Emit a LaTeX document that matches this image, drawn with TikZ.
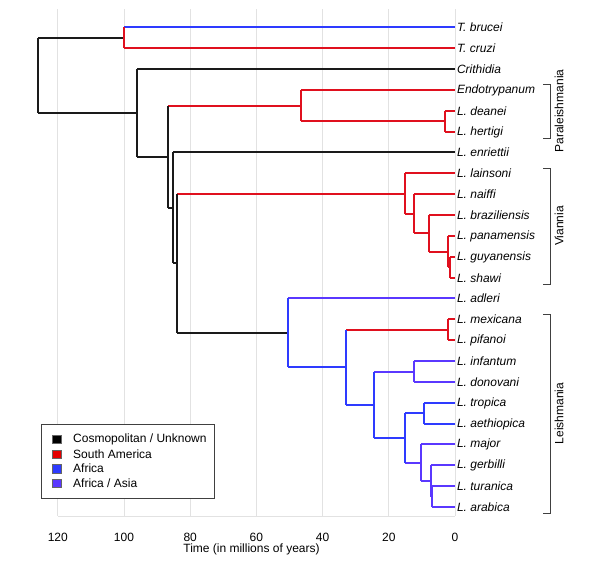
\documentclass[tikz,border=0pt]{standalone}
\usepackage{fontspec}
\setmainfont{Liberation Sans}
\definecolor{cosmocol}{HTML}{1A1A1A}
\definecolor{samcol}{HTML}{E0101E}
\definecolor{afrcol}{HTML}{2E3BFF}
\definecolor{asiacol}{HTML}{5A38FF}
\definecolor{gridcol}{HTML}{E2E2E2}
\tikzset{
  branch/.style={line width=1.6pt},
  cosmo/.style={branch, draw=cosmocol},
  samerica/.style={branch, draw=samcol},
  africa/.style={branch, draw=afrcol},
  afasia/.style={branch, draw=asiacol},
  leaf/.style={anchor=west, inner xsep=2pt, inner ysep=0pt, outer sep=0pt, font=\fontsize{12}{14}\selectfont\itshape},
  gridline/.style={draw=gridcol, line width=0.9pt},
  ticklabel/.style={inner sep=0pt, font=\fontsize{12}{14}\selectfont},
  groupname/.style={rotate=90, font=\fontsize{12}{14}\selectfont},
  bracket/.style={draw=black!75, line width=0.9pt},
  swatch/.style={draw=black!60, line width=0.4pt, minimum size=8.5pt, inner sep=0pt},
  legendtext/.style={anchor=west, inner sep=0pt, font=\fontsize{12}{14}\selectfont}
}
\begin{document}
\begin{tikzpicture}[x=1pt, y=-1pt]
\useasboundingbox (0,0) rectangle (600,567);

% grid and axis
\foreach \t in {0,20,...,120}{
  \draw[gridline] ({455-3.31*\t},9) -- ({455-3.31*\t},516);
  \node[ticklabel] at ({455-3.31*\t},537.5) {\t};
}
\draw[gridline] (57.8,516) -- (455,516);
\node[ticklabel] (xlabel) at (251.5,549.5) {Time (in millions of years)};

% leaves
\node[leaf] (brucei) at (455,27) {T. brucei};
\node[leaf] (cruzi) at (455,48) {T. cruzi};
\node[leaf] (crithidia) at (455,69) {Crithidia};
\node[leaf] (endotryp) at (455,90) {Endotrypanum};
\node[leaf] (deanei) at (455,111) {L. deanei};
\node[leaf] (hertigi) at (455,132) {L. hertigi};
\node[leaf] (enriettii) at (455,152) {L. enriettii};
\node[leaf] (lainsoni) at (455,173) {L. lainsoni};
\node[leaf] (naiffi) at (455,194) {L. naiffi};
\node[leaf] (brazil) at (455,215) {L. braziliensis};
\node[leaf] (panam) at (455,236) {L. panamensis};
\node[leaf] (guyan) at (455,257) {L. guyanensis};
\node[leaf] (shawi) at (455,278) {L. shawi};
\node[leaf] (adleri) at (455,298) {L. adleri};
\node[leaf] (mexicana) at (455,319) {L. mexicana};
\node[leaf] (pifanoi) at (455,340) {L. pifanoi};
\node[leaf] (infantum) at (455,361) {L. infantum};
\node[leaf] (donovani) at (455,382) {L. donovani};
\node[leaf] (tropica) at (455,403) {L. tropica};
\node[leaf] (aethiop) at (455,424) {L. aethiopica};
\node[leaf] (major) at (455,444) {L. major};
\node[leaf] (gerbilli) at (455,465) {L. gerbilli};
\node[leaf] (turanica) at (455,486) {L. turanica};
\node[leaf] (arabica) at (455,507) {L. arabica};

% internal nodes
\coordinate (nR) at (38,75);
\coordinate (nT) at (124,38);
\coordinate (nK) at (137,113);
\coordinate (nA) at (168,157);
\coordinate (nP) at (301,106);
\coordinate (nDH) at (445,121);
\coordinate (nB) at (173,208);
\coordinate (nC) at (177,263);
\coordinate (nV) at (405,194);
\coordinate (nV2) at (414,214);
\coordinate (nV3) at (429,233);
\coordinate (nV4) at (448,252);
\coordinate (nGS) at (450,267);
\coordinate (nL) at (288,333);
\coordinate (nL2) at (346,367);
\coordinate (nMP) at (448,330);
\coordinate (nI) at (374,405);
\coordinate (nID) at (414,372);
\coordinate (nO) at (405,438);
\coordinate (nTA) at (424,413);
\coordinate (nM) at (421,463);
\coordinate (nG) at (431,481);
\coordinate (nTU) at (432,497);

% horizontal branches, coloured by region of the child
\draw[cosmo] (nR |- nT) -- (nT);
\draw[cosmo] (nR |- nK) -- (nK);
\draw[africa] (nT |- brucei) -- (brucei);
\draw[samerica] (nT |- cruzi) -- (cruzi);
\draw[cosmo] (nK |- crithidia) -- (crithidia);
\draw[cosmo] (nK |- nA) -- (nA);
\draw[samerica] (nA |- nP) -- (nP);
\draw[cosmo] (nA |- nB) -- (nB);
\draw[samerica] (nP |- endotryp) -- (endotryp);
\draw[samerica] (nP |- nDH) -- (nDH);
\draw[samerica] (nDH |- deanei) -- (deanei);
\draw[samerica] (nDH |- hertigi) -- (hertigi);
\draw[cosmo] (nB |- enriettii) -- (enriettii);
\draw[cosmo] (nB |- nC) -- (nC);
\draw[samerica] (nC |- nV) -- (nV);
\draw[cosmo] (nC |- nL) -- (nL);
\draw[samerica] (nV |- lainsoni) -- (lainsoni);
\draw[samerica] (nV |- nV2) -- (nV2);
\draw[samerica] (nV2 |- naiffi) -- (naiffi);
\draw[samerica] (nV2 |- nV3) -- (nV3);
\draw[samerica] (nV3 |- brazil) -- (brazil);
\draw[samerica] (nV3 |- nV4) -- (nV4);
\draw[samerica] (nV4 |- panam) -- (panam);
\draw[samerica] (nV4 |- nGS) -- (nGS);
\draw[samerica] (nGS |- guyan) -- (guyan);
\draw[samerica] (nGS |- shawi) -- (shawi);
\draw[afasia] (nL |- adleri) -- (adleri);
\draw[africa] (nL |- nL2) -- (nL2);
\draw[samerica] (nL2 |- nMP) -- (nMP);
\draw[africa] (nL2 |- nI) -- (nI);
\draw[samerica] (nMP |- mexicana) -- (mexicana);
\draw[samerica] (nMP |- pifanoi) -- (pifanoi);
\draw[afasia] (nI |- nID) -- (nID);
\draw[africa] (nI |- nO) -- (nO);
\draw[afasia] (nID |- infantum) -- (infantum);
\draw[afasia] (nID |- donovani) -- (donovani);
\draw[africa] (nO |- nTA) -- (nTA);
\draw[afasia] (nO |- nM) -- (nM);
\draw[africa] (nTA |- tropica) -- (tropica);
\draw[africa] (nTA |- aethiop) -- (aethiop);
\draw[afasia] (nM |- major) -- (major);
\draw[afasia] (nM |- nG) -- (nG);
\draw[afasia] (nG |- gerbilli) -- (gerbilli);
\draw[afasia] (nG |- nTU) -- (nTU);
\draw[afasia] (nTU |- turanica) -- (turanica);
\draw[afasia] (nTU |- arabica) -- (arabica);

% vertical branches, coloured by the node itself
\draw[cosmo] (nR |- nT) -- (nR |- nK);
\draw[samerica] (nT |- brucei) -- (nT |- cruzi);
\draw[cosmo] (nK |- crithidia) -- (nK |- nA);
\draw[cosmo] (nA |- nP) -- (nA |- nB);
\draw[samerica] (nP |- endotryp) -- (nP |- nDH);
\draw[samerica] (nDH |- deanei) -- (nDH |- hertigi);
\draw[cosmo] (nB |- enriettii) -- (nB |- nC);
\draw[cosmo] (nC |- nV) -- (nC |- nL);
\draw[samerica] (nV |- lainsoni) -- (nV |- nV2);
\draw[samerica] (nV2 |- naiffi) -- (nV2 |- nV3);
\draw[samerica] (nV3 |- brazil) -- (nV3 |- nV4);
\draw[samerica] (nV4 |- panam) -- (nV4 |- nGS);
\draw[samerica] (nGS |- guyan) -- (nGS |- shawi);
\draw[africa] (nL |- adleri) -- (nL |- nL2);
\draw[africa] (nL2 |- nMP) -- (nL2 |- nI);
\draw[samerica] (nMP |- mexicana) -- (nMP |- pifanoi);
\draw[africa] (nI |- nID) -- (nI |- nO);
\draw[afasia] (nID |- infantum) -- (nID |- donovani);
\draw[africa] (nO |- nTA) -- (nO |- nM);
\draw[africa] (nTA |- tropica) -- (nTA |- aethiop);
\draw[afasia] (nM |- major) -- (nM |- nG);
\draw[afasia] (nG |- gerbilli) -- (nG |- nTU);
\draw[afasia] (nTU |- turanica) -- (nTU |- arabica);

% group brackets
\draw[bracket] (543,84) -- (550,84) -- (550,138) -- (543,138);
\node[groupname] (paral) at (559,111) {Paraleishmania};
\draw[bracket] (543,168) -- (550,168) -- (550,284) -- (543,284);
\node[groupname] (viannia) at (559,226) {Viannia};
\draw[bracket] (543,314) -- (550,314) -- (550,513) -- (543,513);
\node[groupname] (leish) at (559,413.5) {Leishmania};

% legend
\draw[fill=white, draw=black!75, line width=0.9pt] (41,424) rectangle (214,498);
\node[swatch, fill=black] (swc) at (56.5,439) {};
\node[swatch, fill=red!90!black] (sws) at (56.5,454) {};
\node[swatch, fill=afrcol] (swa) at (56.5,468.5) {};
\node[swatch, fill=asiacol] (swaa) at (56.5,483) {};
\node[legendtext] (lc) at (73,439) {Cosmopolitan / Unknown};
\node[legendtext] (ls) at (73,454) {South America};
\node[legendtext] (la) at (73,468.5) {Africa};
\node[legendtext] (laa) at (73,483) {Africa / Asia};
\end{tikzpicture}
\end{document}
